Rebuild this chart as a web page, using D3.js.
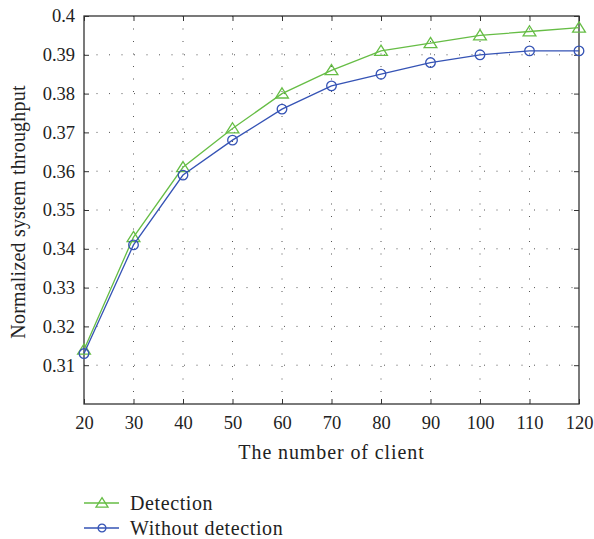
<!DOCTYPE html>
<html>
<head>
<meta charset="utf-8">
<script src="https://cdn.jsdelivr.net/npm/d3@7"></script>
<style>
  body { margin: 0; background: #fff; }
  text { font-family: "Liberation Serif", "DejaVu Serif", serif; fill: #222; }
</style>
</head>
<body>
<script>
const clients = [20, 30, 40, 50, 60, 70, 80, 90, 100, 110, 120];
const detection = [0.314, 0.343, 0.361, 0.371, 0.380, 0.386, 0.391, 0.393, 0.395, 0.396, 0.397];
const withoutDetection = [0.313, 0.341, 0.359, 0.368, 0.376, 0.382, 0.385, 0.388, 0.390, 0.391, 0.391];
const yTicks = [0.31, 0.32, 0.33, 0.34, 0.35, 0.36, 0.37, 0.38, 0.39, 0.4];

const width = 594, height = 539;
const margin = { left: 84, right: 15, top: 16, bottom: 135 };
const green = '#66bd45', blue = '#3553b5';

const svg = d3.select('body').append('svg')
  .attr('width', width).attr('height', height);

const x = d3.scaleLinear().domain([20, 120]).range([margin.left, width - margin.right]);
const y = d3.scaleLinear().domain([0.30, 0.40]).range([height - margin.bottom, margin.top]);

// dotted grid
svg.append('g').selectAll('line.gx')
  .data(clients.slice(1, -1))
  .join('line')
  .attr('x1', d => x(d)).attr('x2', d => x(d))
  .attr('y1', y(0.40)).attr('y2', y(0.30))
  .attr('stroke', '#555').attr('stroke-width', 1)
  .attr('stroke-dasharray', '1,11.5');

svg.append('g').selectAll('line.gy')
  .data(yTicks.slice(0, -1))
  .join('line')
  .attr('x1', x(20)).attr('x2', x(120))
  .attr('y1', d => y(d)).attr('y2', d => y(d))
  .attr('stroke', '#555').attr('stroke-width', 1)
  .attr('stroke-dasharray', '1,11.5');

// axes with inward ticks
const fmt = d => d3.format('')(+d.toFixed(2));
svg.append('g')
  .attr('transform', `translate(0,${y(0.30)})`)
  .call(d3.axisBottom(x).tickValues(clients).tickSize(-5).tickPadding(12).tickFormat(d3.format('d')))
  .call(g => g.select('.domain').remove())
  .call(g => g.selectAll('text').attr('font-size', 18.5).attr('fill', '#222'));

svg.append('g')
  .attr('transform', `translate(${x(20)},0)`)
  .call(d3.axisLeft(y).tickValues(yTicks).tickSize(-5).tickPadding(9).tickFormat(fmt))
  .call(g => g.select('.domain').remove())
  .call(g => g.selectAll('text').attr('font-size', 18.5).attr('fill', '#222'));

svg.append('g')
  .attr('transform', `translate(0,${y(0.40)})`)
  .call(d3.axisTop(x).tickValues(clients).tickSize(-5).tickFormat(''))
  .call(g => g.select('.domain').remove());

svg.append('g')
  .attr('transform', `translate(${x(120)},0)`)
  .call(d3.axisRight(y).tickValues(yTicks).tickSize(-5).tickFormat(''))
  .call(g => g.select('.domain').remove());

svg.selectAll('.tick line').attr('stroke', '#333');

// frame
svg.append('rect')
  .attr('x', x(20)).attr('y', y(0.40))
  .attr('width', x(120) - x(20)).attr('height', y(0.30) - y(0.40))
  .attr('fill', 'none').attr('stroke', '#333').attr('stroke-width', 1.3);

// series
const series = [
  { name: 'Detection', values: detection, color: green, marker: 'triangle' },
  { name: 'Without detection', values: withoutDetection, color: blue, marker: 'circle' }
];

const line = d3.line().x((d, i) => x(clients[i])).y(d => y(d));

function drawMarker(g, type, color, size) {
  if (type === 'triangle') {
    g.append('path')
      .attr('d', `M0,${-size * 0.72}L${size * 0.8},${size * 0.55}L${-size * 0.8},${size * 0.55}Z`)
      .attr('fill', 'none').attr('stroke', color).attr('stroke-width', 1.3);
  } else {
    g.append('circle').attr('r', size * 0.6)
      .attr('fill', 'none').attr('stroke', color).attr('stroke-width', 1.3);
  }
}

series.forEach(s => {
  svg.append('path')
    .datum(s.values)
    .attr('d', line)
    .attr('fill', 'none').attr('stroke', s.color).attr('stroke-width', 1.3);
  s.values.forEach((v, i) => {
    const g = svg.append('g').attr('transform', `translate(${x(clients[i])},${y(v)})`);
    drawMarker(g, s.marker, s.color, 8);
  });
});

// axis titles
svg.append('text')
  .attr('x', x(70)).attr('y', 459)
  .attr('text-anchor', 'middle').attr('font-size', 20)
  .attr('letter-spacing', 0.9)
  .text('The number of client');

svg.append('text')
  .attr('transform', `translate(25,212) rotate(-90)`)
  .attr('text-anchor', 'middle').attr('font-size', 20)
  .attr('letter-spacing', 0.2)
  .text('Normalized system throughput');

// legend
const legend = svg.append('g').selectAll('g')
  .data(series)
  .join('g')
  .attr('transform', (d, i) => `translate(84,${503 + i * 25})`);

legend.append('line')
  .attr('x1', 0).attr('x2', 35)
  .attr('stroke', d => d.color).attr('stroke-width', 1.3);

legend.each(function(d) {
  const g = d3.select(this).append('g').attr('transform', 'translate(18,0)');
  drawMarker(g, d.marker, d.color, d.marker === 'triangle' ? 7.5 : 6.5);
});

legend.append('text')
  .attr('x', 46).attr('y', 6.5)
  .attr('font-size', 20)
  .attr('letter-spacing', 0.6)
  .text(d => d.name);
</script>
</body>
</html>
